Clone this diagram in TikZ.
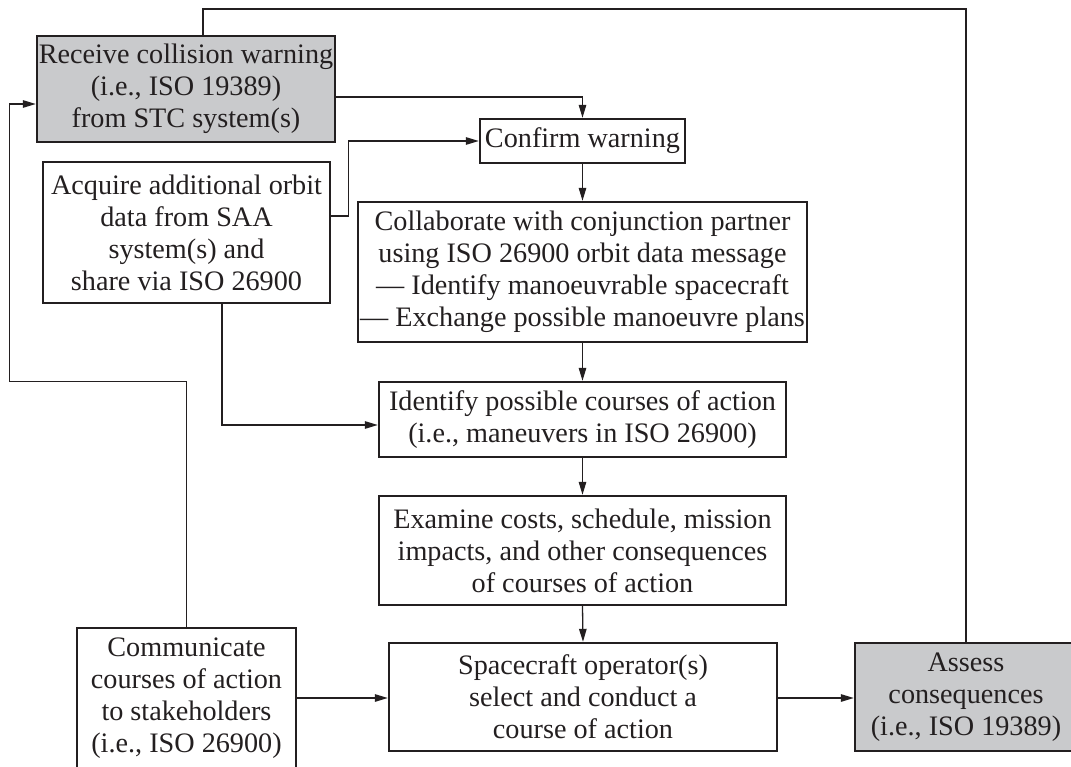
\documentclass[tikz,border=0pt]{standalone}
\usepackage{fontspec}
\setmainfont{Liberation Serif}
\usetikzlibrary{arrows.meta}
\definecolor{boxgray}{RGB}{201,202,204}
\definecolor{ink}{RGB}{35,31,32}
\tikzset{
  flowbox/.style={draw=ink, line width=2.4pt, inner sep=0pt, align=center,
    font=\fontsize{28.2}{32}\selectfont, text=ink},
  graybox/.style={flowbox, fill=boxgray},
  conn/.style={draw=ink, line width=1.3pt},
  arr/.style={conn, -{Triangle[length=13pt,width=7.5pt]}},
}
\begin{document}
\begin{tikzpicture}[x=1pt,y=-1pt]
\useasboundingbox (0,0) rectangle (1071,767);
\clip (0,0) rectangle (1071,767);

\node[graybox, minimum width=298pt, minimum height=106pt] (A) at (186,89)
  {Receive collision warning\\(i.e., ISO 19389)\\from STC system(s)};
\node[flowbox, minimum width=205pt, minimum height=44pt] (Cf) at (582.5,141)
  {Confirm warning};
\node[flowbox, minimum width=287pt, minimum height=141pt] (Q) at (186.5,232.5)
  {Acquire additional orbit\\data from SAA\\system(s) and\\share via ISO 26900};
\node[flowbox, minimum width=449pt, minimum height=140pt] (Co) at (582.5,272)
  {Collaborate with conjunction partner\\using ISO 26900 orbit data message\\— Identify manoeuvrable spacecraft\\— Exchange possible manoeuvre plans};
\node[flowbox, minimum width=407pt, minimum height=75pt] (Id) at (582.5,419.5)
  {Identify possible courses of action\\(i.e., maneuvers in ISO 26900)};
\node[flowbox, minimum width=407pt, minimum height=109pt] (Ex) at (582.5,550.5)
  {Examine costs, schedule, mission\\impacts, and other consequences\\of courses of action};
\node[flowbox, minimum width=388pt, minimum height=108pt] (Sp) at (583,697)
  {Spacecraft operator(s)\\select and conduct a\\course of action};
\node[flowbox, minimum width=219pt, minimum height=140pt] (Cm) at (186.5,698)
  {Communicate\\courses of action\\to stakeholders\\(i.e., ISO 26900)};
\node[graybox, minimum width=222pt, minimum height=108pt] (As) at (966,697)
  {Assess\\consequences\\(i.e., ISO 19389)};

% connectors
\draw[arr] (A.east |- 0,97) -| (Cf.north);
\draw[arr] (Q.east |- 0,216) -- ++(17,0) |- (Cf.west);
\draw[arr] (Cf.south) -- (Co.north);
\draw[arr] (Co.south) -- (Id.north);
\draw[arr] (Id.south) -- (Ex.north);
\draw[arr] (Ex.south) -- (Sp.north);
\draw[arr] (Q.south -| 222,0) |- (Id.west |- 0,425);
\draw[arr] (Cm.east |- 0,698) -- (Sp.west |- 0,698);
\draw[arr] (Sp.east |- 0,698) -- (As.west |- 0,698);
\draw[arr] (Cm.north) |- (9.5,381.5) |- (A.west |- 0,104);
\draw[conn] (As.north) |- (203,9) -- (A.north -| 203,0);
\end{tikzpicture}
\end{document}
